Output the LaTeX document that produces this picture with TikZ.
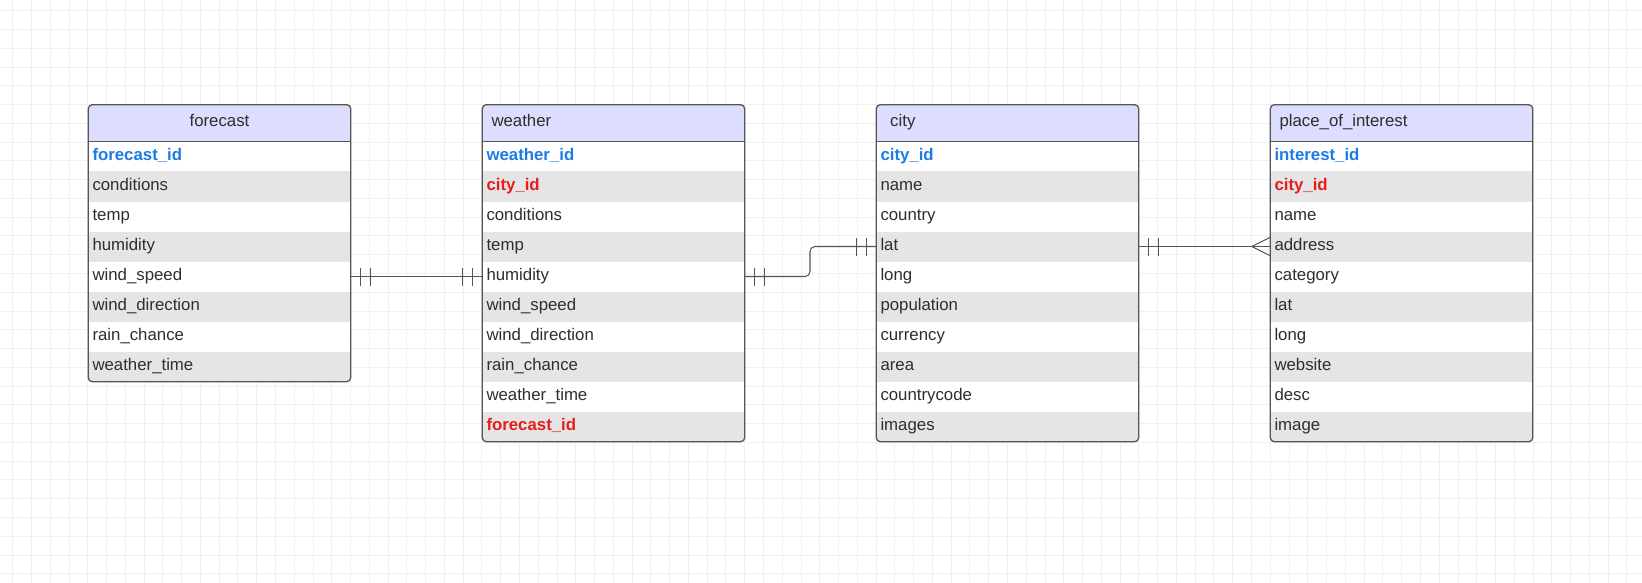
\documentclass[tikz,border=0pt]{standalone}
\usepackage{fontspec}
\setmainfont{Liberation Sans}
\usetikzlibrary{decorations.markings}

\definecolor{headfill}{HTML}{DDDDFF}
\definecolor{rowgray}{HTML}{E5E5E5}
\definecolor{keyblue}{HTML}{1C7CE5}
\definecolor{keyred}{HTML}{E81C1C}
\definecolor{inkgray}{HTML}{2E2E2E}
\definecolor{edgegray}{HTML}{555555}
\definecolor{gridgray}{HTML}{F0F0F0}

\begin{document}
\begin{tikzpicture}[x=1pt,y=-1pt,
   every node/.style={font=\fontsize{16.8}{20}\selectfont, text=inkgray},
   headrow/.style={anchor=north west, fill=headfill, minimum height=36.6pt, text width=244pt,
      inner xsep=9pt, inner ysep=0pt, text height=11.4pt, text depth=4pt, align=left},
   whiterow/.style={anchor=north west, fill=white, minimum height=30pt, text width=254pt,
      inner xsep=4pt, inner ysep=0pt, text height=12.8pt, text depth=4pt, align=left},
   grayrow/.style={whiterow, fill=rowgray},
   pk/.style={font=\fontsize{16.8}{20}\selectfont\bfseries, text=keyblue},
   fk/.style={font=\fontsize{16.8}{20}\selectfont\bfseries, text=keyred},
   tablebox/.style={draw=edgegray, line width=1.3pt, rounded corners=4pt},
   link/.style={draw=edgegray, line width=1.05pt},
   oneone/.style={postaction={decorate}, decoration={markings,
      mark=at position 10pt with {\draw[link] (0,-9pt) -- (0,9pt);},
      mark=at position 19.5pt with {\draw[link] (0,-9pt) -- (0,9pt);},
      mark=at position -19.5pt with {\draw[link] (0,-9pt) -- (0,9pt);},
      mark=at position -10pt with {\draw[link] (0,-9pt) -- (0,9pt);}}},
   onemany/.style={postaction={decorate}, decoration={markings,
      mark=at position 10pt with {\draw[link] (0,-9pt) -- (0,9pt);},
      mark=at position 19.5pt with {\draw[link] (0,-9pt) -- (0,9pt);},
      mark=at position -18.6pt with {\draw[link] (0,0) -- (18.6pt,9.3pt) (0,0) -- (18.6pt,-9.3pt);}}}]

   % page and grid
   \fill[white] (0,0) rectangle (1642,583);
   \useasboundingbox (0,0) rectangle (1642,583);
   \draw[gridgray, line width=1pt, shift={(12.7,10.7)}, step=18.77pt] (-12.7,572.3) grid (1629.3,-10.7);

   % forecast
   \begin{scope}
    \clip[rounded corners=4pt] (88.3,104.7) rectangle (350.3,381.3);
    \node[headrow, align=center] (hf) at (88.3,104.7) {forecast};
    \node[whiterow, pk] (f1) at (88.3,141.3) {forecast\_id};
    \node[grayrow] (f2) at (88.3,171.3) {conditions};
    \node[whiterow] (f3) at (88.3,201.3) {temp};
    \node[grayrow] (f4) at (88.3,231.3) {humidity};
    \node[whiterow] (f5) at (88.3,261.3) {wind\_speed};
    \node[grayrow] (f6) at (88.3,291.3) {wind\_direction};
    \node[whiterow] (f7) at (88.3,321.3) {rain\_chance};
    \node[grayrow] (f8) at (88.3,351.3) {weather\_time};
   \end{scope}
   \draw[tablebox] (hf.north west) rectangle (f8.south east);
   \draw[tablebox] (hf.south west) -- (hf.south east);

   % weather
   \begin{scope}
    \clip[rounded corners=4pt] (482.3,104.7) rectangle (744.3,441.3);
    \node[headrow] (hw) at (482.3,104.7) {weather};
    \node[whiterow, pk] (w1) at (482.3,141.3) {weather\_id};
    \node[grayrow, fk] (w2) at (482.3,171.3) {city\_id};
    \node[whiterow] (w3) at (482.3,201.3) {conditions};
    \node[grayrow] (w4) at (482.3,231.3) {temp};
    \node[whiterow] (w5) at (482.3,261.3) {humidity};
    \node[grayrow] (w6) at (482.3,291.3) {wind\_speed};
    \node[whiterow] (w7) at (482.3,321.3) {wind\_direction};
    \node[grayrow] (w8) at (482.3,351.3) {rain\_chance};
    \node[whiterow] (w9) at (482.3,381.3) {weather\_time};
    \node[grayrow, fk] (w10) at (482.3,411.3) {forecast\_id};
   \end{scope}
   \draw[tablebox] (hw.north west) rectangle (w10.south east);
   \draw[tablebox] (hw.south west) -- (hw.south east);

   % city
   \begin{scope}
    \clip[rounded corners=4pt] (876.3,104.7) rectangle (1138.3,441.3);
    \node[headrow] (hc) at (876.3,104.7) {\hspace*{4.7pt}city};
    \node[whiterow, pk] (c1) at (876.3,141.3) {city\_id};
    \node[grayrow] (c2) at (876.3,171.3) {name};
    \node[whiterow] (c3) at (876.3,201.3) {country};
    \node[grayrow] (c4) at (876.3,231.3) {lat};
    \node[whiterow] (c5) at (876.3,261.3) {long};
    \node[grayrow] (c6) at (876.3,291.3) {population};
    \node[whiterow] (c7) at (876.3,321.3) {currency};
    \node[grayrow] (c8) at (876.3,351.3) {area};
    \node[whiterow] (c9) at (876.3,381.3) {countrycode};
    \node[grayrow] (c10) at (876.3,411.3) {images};
   \end{scope}
   \draw[tablebox] (hc.north west) rectangle (c10.south east);
   \draw[tablebox] (hc.south west) -- (hc.south east);

   % place_of_interest
   \begin{scope}
    \clip[rounded corners=4pt] (1270.3,104.7) rectangle (1532.3,441.3);
    \node[headrow] (hp) at (1270.3,104.7) {place\_of\_interest};
    \node[whiterow, pk] (p1) at (1270.3,141.3) {interest\_id};
    \node[grayrow, fk] (p2) at (1270.3,171.3) {city\_id};
    \node[whiterow] (p3) at (1270.3,201.3) {name};
    \node[grayrow] (p4) at (1270.3,231.3) {address};
    \node[whiterow] (p5) at (1270.3,261.3) {category};
    \node[grayrow] (p6) at (1270.3,291.3) {lat};
    \node[whiterow] (p7) at (1270.3,321.3) {long};
    \node[grayrow] (p8) at (1270.3,351.3) {website};
    \node[whiterow] (p9) at (1270.3,381.3) {desc};
    \node[grayrow] (p10) at (1270.3,411.3) {image};
   \end{scope}
   \draw[tablebox] (hp.north west) rectangle (p10.south east);
   \draw[tablebox] (hp.south west) -- (hp.south east);

   % relations
   \draw[link, oneone] (f5.east) -- (w5.west);
   \draw[link, oneone, rounded corners=5pt] (w5.east) -- ++(65.3,0) |- (c4.west);
   \draw[link, onemany] (c4.east) -- (p4.west);
\end{tikzpicture}
\end{document}
